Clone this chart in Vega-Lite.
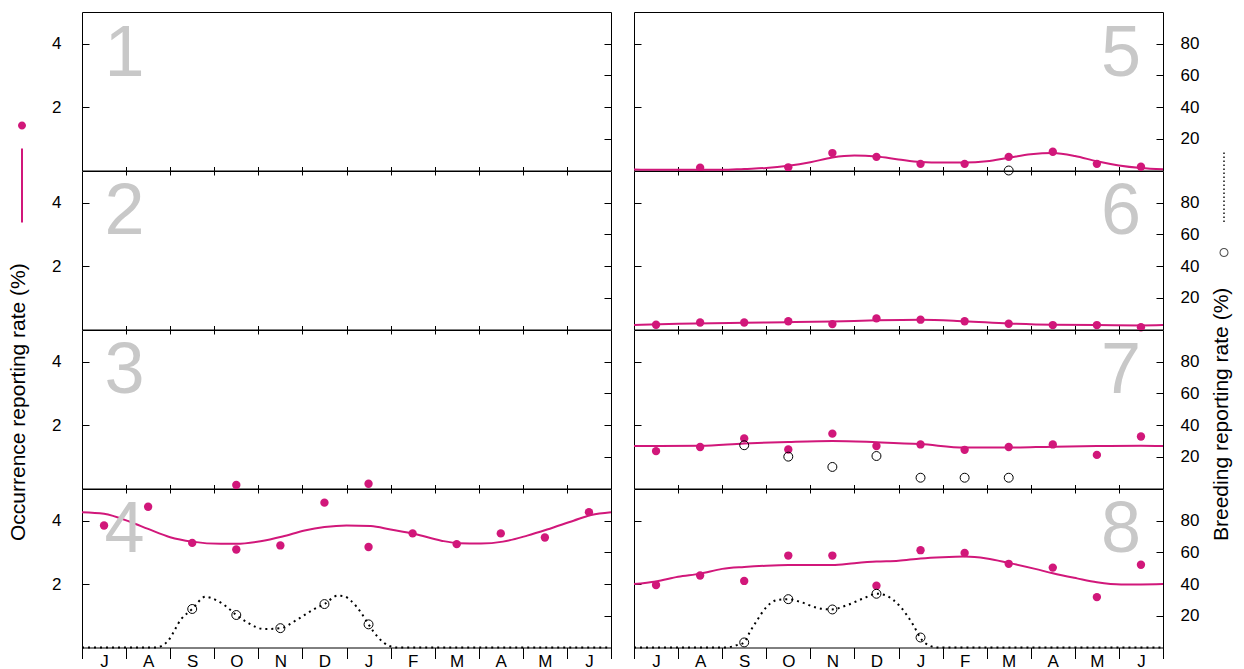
{
  "$schema": "https://vega.github.io/schema/vega-lite/v6.json",
  "padding": {"left": 6, "top": 11, "right": 5, "bottom": 0},
  "background": "white",
  "config": {
    "font": "Liberation Sans",
    "view": {"stroke": "black", "strokeWidth": 1},
    "axis": {"grid": false, "domain": false, "tickColor": "black", "tickWidth": 1, "labelColor": "black", "labelFont": "Liberation Sans", "labelFontSize": 17, "titleFont": "Liberation Sans", "titleFontSize": 21, "titleFontWeight": "normal", "titleColor": "black"},
    "title": {"font": "Liberation Sans", "fontSize": 72, "fontWeight": "normal", "color": "#c8c8c8", "baseline": "alphabetic", "frame": "group", "offset": -78.5},
    "legend": {"padding": 0}
  },
  "datasets": {
    "occ_pts": [
      {"p": 3, "m": 3.5, "v": 0.11}, {"p": 3, "m": 6.5, "v": 0.15},
      {"p": 4, "m": 0.5, "v": 3.85}, {"p": 4, "m": 1.5, "v": 4.44}, {"p": 4, "m": 2.5, "v": 3.30}, {"p": 4, "m": 3.5, "v": 3.09},
      {"p": 4, "m": 4.5, "v": 3.22}, {"p": 4, "m": 5.5, "v": 4.57}, {"p": 4, "m": 6.5, "v": 3.17}, {"p": 4, "m": 7.5, "v": 3.60},
      {"p": 4, "m": 8.5, "v": 3.26}, {"p": 4, "m": 9.5, "v": 3.60}, {"p": 4, "m": 10.5, "v": 3.47}, {"p": 4, "m": 11.5, "v": 4.27},
      {"p": 5, "m": 1.5, "v": 0.09}, {"p": 5, "m": 3.5, "v": 0.1}, {"p": 5, "m": 4.5, "v": 0.55}, {"p": 5, "m": 5.5, "v": 0.43},
      {"p": 5, "m": 6.5, "v": 0.21}, {"p": 5, "m": 7.5, "v": 0.21}, {"p": 5, "m": 8.5, "v": 0.43}, {"p": 5, "m": 9.5, "v": 0.59},
      {"p": 5, "m": 10.5, "v": 0.21}, {"p": 5, "m": 11.5, "v": 0.12},
      {"p": 6, "m": 0.5, "v": 0.15}, {"p": 6, "m": 1.5, "v": 0.22}, {"p": 6, "m": 2.5, "v": 0.22}, {"p": 6, "m": 3.5, "v": 0.26},
      {"p": 6, "m": 4.5, "v": 0.17}, {"p": 6, "m": 5.5, "v": 0.35}, {"p": 6, "m": 6.5, "v": 0.31}, {"p": 6, "m": 7.5, "v": 0.26},
      {"p": 6, "m": 8.5, "v": 0.18}, {"p": 6, "m": 9.5, "v": 0.14}, {"p": 6, "m": 10.5, "v": 0.14}, {"p": 6, "m": 11.5, "v": 0.07},
      {"p": 7, "m": 0.5, "v": 1.18}, {"p": 7, "m": 1.5, "v": 1.31}, {"p": 7, "m": 2.5, "v": 1.58}, {"p": 7, "m": 3.5, "v": 1.23},
      {"p": 7, "m": 4.5, "v": 1.73}, {"p": 7, "m": 5.5, "v": 1.34}, {"p": 7, "m": 6.5, "v": 1.39}, {"p": 7, "m": 7.5, "v": 1.22},
      {"p": 7, "m": 8.5, "v": 1.31}, {"p": 7, "m": 9.5, "v": 1.39}, {"p": 7, "m": 10.5, "v": 1.06}, {"p": 7, "m": 11.5, "v": 1.64},
      {"p": 8, "m": 0.5, "v": 1.97}, {"p": 8, "m": 1.5, "v": 2.27}, {"p": 8, "m": 2.5, "v": 2.10}, {"p": 8, "m": 3.5, "v": 2.90},
      {"p": 8, "m": 4.5, "v": 2.90}, {"p": 8, "m": 5.5, "v": 1.95}, {"p": 8, "m": 6.5, "v": 3.07}, {"p": 8, "m": 7.5, "v": 2.98},
      {"p": 8, "m": 8.5, "v": 2.64}, {"p": 8, "m": 9.5, "v": 2.52}, {"p": 8, "m": 10.5, "v": 1.59}, {"p": 8, "m": 11.5, "v": 2.61}
    ],
    "occ_line": [
      {"p": 4, "m": 0, "v": 4.27}, {"p": 4, "m": 0.5, "v": 4.22}, {"p": 4, "m": 1.1, "v": 3.96}, {"p": 4, "m": 1.5, "v": 3.74},
      {"p": 4, "m": 2.0, "v": 3.48}, {"p": 4, "m": 2.5, "v": 3.34}, {"p": 4, "m": 3.15, "v": 3.27}, {"p": 4, "m": 3.5, "v": 3.27},
      {"p": 4, "m": 4.05, "v": 3.35}, {"p": 4, "m": 4.55, "v": 3.50}, {"p": 4, "m": 5.05, "v": 3.69}, {"p": 4, "m": 5.5, "v": 3.80},
      {"p": 4, "m": 6.0, "v": 3.85}, {"p": 4, "m": 6.55, "v": 3.83}, {"p": 4, "m": 7.0, "v": 3.72}, {"p": 4, "m": 7.55, "v": 3.58},
      {"p": 4, "m": 8.15, "v": 3.37}, {"p": 4, "m": 8.55, "v": 3.29}, {"p": 4, "m": 9.05, "v": 3.28}, {"p": 4, "m": 9.55, "v": 3.34},
      {"p": 4, "m": 10.1, "v": 3.53}, {"p": 4, "m": 10.55, "v": 3.72}, {"p": 4, "m": 11.15, "v": 4.0}, {"p": 4, "m": 11.55, "v": 4.18},
      {"p": 4, "m": 12, "v": 4.27},
      {"p": 5, "m": 0, "v": 0.03}, {"p": 5, "m": 0.5, "v": 0.02}, {"p": 5, "m": 1.5, "v": 0.02}, {"p": 5, "m": 2, "v": 0.02},
      {"p": 5, "m": 2.5, "v": 0.05}, {"p": 5, "m": 3, "v": 0.08}, {"p": 5, "m": 3.5, "v": 0.15}, {"p": 5, "m": 4, "v": 0.26},
      {"p": 5, "m": 4.5, "v": 0.41}, {"p": 5, "m": 5, "v": 0.47}, {"p": 5, "m": 5.5, "v": 0.44}, {"p": 5, "m": 6, "v": 0.35},
      {"p": 5, "m": 6.5, "v": 0.27}, {"p": 5, "m": 7, "v": 0.25}, {"p": 5, "m": 7.5, "v": 0.25}, {"p": 5, "m": 8, "v": 0.29},
      {"p": 5, "m": 8.5, "v": 0.40}, {"p": 5, "m": 9, "v": 0.51}, {"p": 5, "m": 9.5, "v": 0.55}, {"p": 5, "m": 10, "v": 0.46},
      {"p": 5, "m": 10.5, "v": 0.29}, {"p": 5, "m": 11, "v": 0.16}, {"p": 5, "m": 11.5, "v": 0.08}, {"p": 5, "m": 12, "v": 0.04},
      {"p": 6, "m": 0, "v": 0.14}, {"p": 6, "m": 1, "v": 0.18}, {"p": 6, "m": 2.5, "v": 0.21}, {"p": 6, "m": 3.5, "v": 0.23},
      {"p": 6, "m": 4.5, "v": 0.25}, {"p": 6, "m": 5.5, "v": 0.29}, {"p": 6, "m": 6.5, "v": 0.31}, {"p": 6, "m": 7.5, "v": 0.26},
      {"p": 6, "m": 8.5, "v": 0.19}, {"p": 6, "m": 9.5, "v": 0.15}, {"p": 6, "m": 10.5, "v": 0.14}, {"p": 6, "m": 11.5, "v": 0.13},
      {"p": 6, "m": 12, "v": 0.14},
      {"p": 7, "m": 0, "v": 1.34}, {"p": 7, "m": 1.5, "v": 1.35}, {"p": 7, "m": 2.5, "v": 1.42}, {"p": 7, "m": 3.5, "v": 1.47},
      {"p": 7, "m": 4.5, "v": 1.50}, {"p": 7, "m": 5.5, "v": 1.46}, {"p": 7, "m": 6.5, "v": 1.40}, {"p": 7, "m": 7.5, "v": 1.29},
      {"p": 7, "m": 8.5, "v": 1.29}, {"p": 7, "m": 9.5, "v": 1.32}, {"p": 7, "m": 10.5, "v": 1.34}, {"p": 7, "m": 11.5, "v": 1.35},
      {"p": 7, "m": 12, "v": 1.34},
      {"p": 8, "m": 0, "v": 2.0}, {"p": 8, "m": 0.5, "v": 2.08}, {"p": 8, "m": 1, "v": 2.23}, {"p": 8, "m": 1.5, "v": 2.33},
      {"p": 8, "m": 2, "v": 2.48}, {"p": 8, "m": 2.5, "v": 2.54}, {"p": 8, "m": 3, "v": 2.58}, {"p": 8, "m": 3.5, "v": 2.60},
      {"p": 8, "m": 4, "v": 2.60}, {"p": 8, "m": 4.5, "v": 2.60}, {"p": 8, "m": 5, "v": 2.66}, {"p": 8, "m": 5.5, "v": 2.71},
      {"p": 8, "m": 6, "v": 2.74}, {"p": 8, "m": 6.5, "v": 2.81}, {"p": 8, "m": 7, "v": 2.85}, {"p": 8, "m": 7.5, "v": 2.87},
      {"p": 8, "m": 8, "v": 2.81}, {"p": 8, "m": 8.5, "v": 2.67}, {"p": 8, "m": 9.1, "v": 2.48}, {"p": 8, "m": 9.5, "v": 2.34},
      {"p": 8, "m": 10.05, "v": 2.18}, {"p": 8, "m": 10.5, "v": 2.06}, {"p": 8, "m": 11.05, "v": 1.99}, {"p": 8, "m": 11.5, "v": 1.99},
      {"p": 8, "m": 12, "v": 2.0}
    ],
    "br_pts": [
      {"p": 4, "m": 2.5, "v": 24.3}, {"p": 4, "m": 3.5, "v": 20.5}, {"p": 4, "m": 4.5, "v": 12.2}, {"p": 4, "m": 5.5, "v": 27.4}, {"p": 4, "m": 6.5, "v": 14.6},
      {"p": 5, "m": 8.5, "v": 0},
      {"p": 7, "m": 2.5, "v": 27.3}, {"p": 7, "m": 3.5, "v": 20.1}, {"p": 7, "m": 4.5, "v": 13.6}, {"p": 7, "m": 5.5, "v": 20.5},
      {"p": 7, "m": 6.5, "v": 6.8}, {"p": 7, "m": 7.5, "v": 6.8}, {"p": 7, "m": 8.5, "v": 6.8},
      {"p": 8, "m": 2.5, "v": 3.2}, {"p": 8, "m": 3.5, "v": 30.5}, {"p": 8, "m": 4.5, "v": 24.0}, {"p": 8, "m": 5.5, "v": 33.9}, {"p": 8, "m": 6.5, "v": 6.3}
    ],
    "br_line": [
      {"p": 4, "m": 0, "v": 0}, {"p": 4, "m": 1.68, "v": 0}, {"p": 4, "m": 1.95, "v": 4.2}, {"p": 4, "m": 2.25, "v": 17.9},
      {"p": 4, "m": 2.5, "v": 24.3}, {"p": 4, "m": 2.8, "v": 32}, {"p": 4, "m": 3.05, "v": 29.8}, {"p": 4, "m": 3.3, "v": 25.3},
      {"p": 4, "m": 3.5, "v": 20.5}, {"p": 4, "m": 3.75, "v": 15.8}, {"p": 4, "m": 4.13, "v": 11.6}, {"p": 4, "m": 4.5, "v": 12.2},
      {"p": 4, "m": 4.9, "v": 17.9}, {"p": 4, "m": 5.27, "v": 24.3}, {"p": 4, "m": 5.5, "v": 27.4}, {"p": 4, "m": 5.8, "v": 32.7},
      {"p": 4, "m": 5.95, "v": 32.3}, {"p": 4, "m": 6.1, "v": 29.5}, {"p": 4, "m": 6.33, "v": 22}, {"p": 4, "m": 6.5, "v": 14.6},
      {"p": 4, "m": 6.72, "v": 6.3}, {"p": 4, "m": 6.97, "v": 1}, {"p": 4, "m": 7.15, "v": 0}, {"p": 4, "m": 12, "v": 0},
      {"p": 8, "m": 0, "v": 0}, {"p": 8, "m": 2.1, "v": 0}, {"p": 8, "m": 2.33, "v": 1.5}, {"p": 8, "m": 2.5, "v": 3.2},
      {"p": 8, "m": 2.63, "v": 9.9}, {"p": 8, "m": 2.78, "v": 16.6}, {"p": 8, "m": 3.01, "v": 25.7}, {"p": 8, "m": 3.24, "v": 29.9},
      {"p": 8, "m": 3.49, "v": 30.5}, {"p": 8, "m": 3.77, "v": 28.8}, {"p": 8, "m": 4.14, "v": 25.1}, {"p": 8, "m": 4.48, "v": 24.0},
      {"p": 8, "m": 4.83, "v": 26.7}, {"p": 8, "m": 5.2, "v": 30.9}, {"p": 8, "m": 5.51, "v": 33.9}, {"p": 8, "m": 5.7, "v": 33},
      {"p": 8, "m": 5.88, "v": 30}, {"p": 8, "m": 6.05, "v": 25.5}, {"p": 8, "m": 6.2, "v": 20}, {"p": 8, "m": 6.34, "v": 14},
      {"p": 8, "m": 6.49, "v": 6.3}, {"p": 8, "m": 6.71, "v": 1.1}, {"p": 8, "m": 6.9, "v": 0}, {"p": 8, "m": 12, "v": 0}
    ]
  },
  "bounds": "flush",
  "columns": 2,
  "spacing": {"row": 0, "column": 23},
  "concat": [
    {
      "width": 529, "height": 158.5,
      "title": {"text": "1", "anchor": "start", "align": "left", "dx": 22.5},
      "resolve": {"scale": {"y": "independent"}, "axis": {"x": "independent", "y": "independent"}},
      "layer": [
        {
          "encoding": {
            "x": {"field": "m", "type": "quantitative", "scale": {"domain": [0, 12], "nice": false, "zero": false}, "axis": {"values": [1,2,3,4,5,6,7,8,9,10,11], "labels": false, "tickSize": -4, "title": null}},
            "y": {"field": "v", "type": "quantitative", "scale": {"domain": [0, 5], "nice": false}, "axis": {"values": [2, 4], "tickSize": -7, "labelPadding": 28, "title": "Occurrence reporting rate (%)", "titleAngle": 270, "titleX": -58, "titleY": 528.5, "titleAlign": "left", "titleBaseline": "alphabetic"}}
          },
          "layer": [
            {"data": {"name": "occ_line"}, "transform": [{"filter": "datum.p == 1"}], "mark": {"type": "line", "color": "#d1177a", "strokeWidth": 2, "interpolate": "monotone"}},
            {"data": {"name": "occ_pts"}, "transform": [{"filter": "datum.p == 1"}], "mark": {"type": "circle", "color": "#d1177a", "size": 70, "opacity": 1}},
            {"data": {"name": "occ_pts"}, "transform": [{"filter": "datum.p == 1"}], "mark": {"type": "point", "filled": true, "size": 4, "color": "#d1177a", "opacity": 1},
             "encoding": {"shape": {"datum": "o", "scale": {"domain": ["o"], "range": ["M-4,0A4,4 0 1,1 4,0A4,4 0 1,1 -4,0ZM-1,23h2v74h-2Z"]},
               "legend": {"orient": "none", "legendX": -62, "legendY": 111.5, "title": null, "labelExpr": "''", "labelFontSize": 1, "symbolSize": 4, "padding": 0,
                 "encode": {"symbols": {"fill": {"value": "#d1177a"}, "stroke": {"value": "#d1177a"}, "strokeWidth": {"value": 0}, "opacity": {"value": 1}}}}}}},
            {"data": {"name": "br_pts"}, "transform": [{"filter": "datum.p == 1"}], "mark": {"type": "point", "filled": true, "size": 4},
             "encoding": {"fill": {"datum": "b", "scale": {"domain": ["b"], "range": ["black"]},
               "legend": {"orient": "none", "legendX": 1140, "legendY": 238.5, "title": null, "labelExpr": "''", "labelFontSize": 1, "symbolSize": 4, "padding": 0,
                 "symbolType": "M-4.5,0A4.5,4.5 0 1,1 4.5,0A4.5,4.5 0 1,1 -4.5,0ZM-3.5,0A3.5,3.5 0 1,0 3.5,0A3.5,3.5 0 1,0 -3.5,0ZM-1,-100h2v1.5h-2ZM-1,-96h2v1.5h-2ZM-1,-92h2v1.5h-2ZM-1,-88h2v1.5h-2ZM-1,-84h2v1.5h-2ZM-1,-80h2v1.5h-2ZM-1,-76h2v1.5h-2ZM-1,-72h2v1.5h-2ZM-1,-68h2v1.5h-2ZM-1,-64h2v1.5h-2ZM-1,-60h2v1.5h-2ZM-1,-56h2v1.5h-2ZM-1,-52h2v1.5h-2ZM-1,-48h2v1.5h-2ZM-1,-44h2v1.5h-2ZM-1,-40h2v1.5h-2ZM-1,-36h2v1.5h-2ZM-1,-32h2v1.5h-2Z",
                 "encode": {"symbols": {"fill": {"value": "black"}, "strokeWidth": {"value": 0}, "opacity": {"value": 1}}}}}}}
          ]
        },
        {
          "encoding": {
            "x": {"field": "m", "type": "quantitative", "axis": null},
            "y": {"field": "v", "type": "quantitative", "scale": {"domain": [0, 100], "nice": false}, "axis": {"orient": "right", "values": [20, 40, 60, 80], "tickSize": -7, "labels": false, "title": null}}
          },
          "layer": [
            {"data": {"name": "br_line"}, "transform": [{"filter": "datum.p == 1"}], "mark": {"type": "line", "color": "black", "strokeWidth": 2, "strokeDash": [2, 4], "interpolate": "monotone"}},
            {"data": {"name": "br_pts"}, "transform": [{"filter": "datum.p == 1"}], "mark": {"type": "point", "shape": "circle", "color": "black", "filled": false, "size": 80, "strokeWidth": 1, "opacity": 1}}
          ]
        }
      ]
    },
    {
      "width": 529, "height": 158.5,
      "title": {"text": "5", "anchor": "end", "align": "right", "dx": -22},
      "resolve": {"scale": {"y": "independent"}, "axis": {"x": "independent", "y": "independent"}},
      "layer": [
        {
          "encoding": {
            "x": {"field": "m", "type": "quantitative", "scale": {"domain": [0, 12], "nice": false, "zero": false}, "axis": {"values": [1,2,3,4,5,6,7,8,9,10,11], "labels": false, "tickSize": -4, "title": null}},
            "y": {"field": "v", "type": "quantitative", "scale": {"domain": [0, 5], "nice": false}, "axis": {"values": [2, 4], "tickSize": -7, "labels": false, "title": null}}
          },
          "layer": [
            {"data": {"name": "occ_line"}, "transform": [{"filter": "datum.p == 5"}], "mark": {"type": "line", "color": "#d1177a", "strokeWidth": 2, "interpolate": "monotone"}},
            {"data": {"name": "occ_pts"}, "transform": [{"filter": "datum.p == 5"}], "mark": {"type": "circle", "color": "#d1177a", "size": 70, "opacity": 1}}
          ]
        },
        {
          "encoding": {
            "x": {"field": "m", "type": "quantitative", "axis": null},
            "y": {"field": "v", "type": "quantitative", "scale": {"domain": [0, 100], "nice": false}, "axis": {"orient": "right", "values": [20, 40, 60, 80], "tickSize": -7, "labelPadding": 24, "title": "Breeding reporting rate (%)", "titleAngle": 270, "titleX": 64, "titleY": 528.5, "titleAlign": "left", "titleBaseline": "alphabetic"}}
          },
          "layer": [
            {"data": {"name": "br_line"}, "transform": [{"filter": "datum.p == 5"}], "mark": {"type": "line", "color": "black", "strokeWidth": 2, "strokeDash": [2, 4], "interpolate": "monotone"}},
            {"data": {"name": "br_pts"}, "transform": [{"filter": "datum.p == 5"}], "mark": {"type": "point", "shape": "circle", "color": "black", "filled": false, "size": 80, "strokeWidth": 1, "opacity": 1}}
          ]
        }
      ]
    },
    {
      "width": 529, "height": 158.5,
      "title": {"text": "2", "anchor": "start", "align": "left", "dx": 22.5},
      "resolve": {"scale": {"y": "independent"}, "axis": {"x": "independent", "y": "independent"}},
      "layer": [
        {
          "encoding": {
            "x": {"field": "m", "type": "quantitative", "scale": {"domain": [0, 12], "nice": false, "zero": false}, "axis": {"values": [1,2,3,4,5,6,7,8,9,10,11], "labels": false, "tickSize": -4, "title": null}},
            "y": {"field": "v", "type": "quantitative", "scale": {"domain": [0, 5], "nice": false}, "axis": {"values": [2, 4], "tickSize": -7, "labelPadding": 28, "title": null}}
          },
          "layer": [
            {"data": {"name": "occ_line"}, "transform": [{"filter": "datum.p == 2"}], "mark": {"type": "line", "color": "#d1177a", "strokeWidth": 2, "interpolate": "monotone"}},
            {"data": {"name": "occ_pts"}, "transform": [{"filter": "datum.p == 2"}], "mark": {"type": "circle", "color": "#d1177a", "size": 70, "opacity": 1}}
          ]
        },
        {
          "encoding": {
            "x": {"field": "m", "type": "quantitative", "axis": {"orient": "top", "values": [1,2,3,4,5,6,7,8,9,10,11], "labels": false, "tickSize": -4, "title": null}},
            "y": {"field": "v", "type": "quantitative", "scale": {"domain": [0, 100], "nice": false}, "axis": {"orient": "right", "values": [20, 40, 60, 80], "tickSize": -7, "labels": false, "title": null}}
          },
          "layer": [
            {"data": {"name": "br_line"}, "transform": [{"filter": "datum.p == 2"}], "mark": {"type": "line", "color": "black", "strokeWidth": 2, "strokeDash": [2, 4], "interpolate": "monotone"}},
            {"data": {"name": "br_pts"}, "transform": [{"filter": "datum.p == 2"}], "mark": {"type": "point", "shape": "circle", "color": "black", "filled": false, "size": 80, "strokeWidth": 1, "opacity": 1}}
          ]
        }
      ]
    },
    {
      "width": 529, "height": 158.5,
      "title": {"text": "6", "anchor": "end", "align": "right", "dx": -22},
      "resolve": {"scale": {"y": "independent"}, "axis": {"x": "independent", "y": "independent"}},
      "layer": [
        {
          "encoding": {
            "x": {"field": "m", "type": "quantitative", "scale": {"domain": [0, 12], "nice": false, "zero": false}, "axis": {"values": [1,2,3,4,5,6,7,8,9,10,11], "labels": false, "tickSize": -4, "title": null}},
            "y": {"field": "v", "type": "quantitative", "scale": {"domain": [0, 5], "nice": false}, "axis": {"values": [2, 4], "tickSize": -7, "labels": false, "title": null}}
          },
          "layer": [
            {"data": {"name": "occ_line"}, "transform": [{"filter": "datum.p == 6"}], "mark": {"type": "line", "color": "#d1177a", "strokeWidth": 2, "interpolate": "monotone"}},
            {"data": {"name": "occ_pts"}, "transform": [{"filter": "datum.p == 6"}], "mark": {"type": "circle", "color": "#d1177a", "size": 70, "opacity": 1}}
          ]
        },
        {
          "encoding": {
            "x": {"field": "m", "type": "quantitative", "axis": {"orient": "top", "values": [1,2,3,4,5,6,7,8,9,10,11], "labels": false, "tickSize": -4, "title": null}},
            "y": {"field": "v", "type": "quantitative", "scale": {"domain": [0, 100], "nice": false}, "axis": {"orient": "right", "values": [20, 40, 60, 80], "tickSize": -7, "labelPadding": 24, "title": null}}
          },
          "layer": [
            {"data": {"name": "br_line"}, "transform": [{"filter": "datum.p == 6"}], "mark": {"type": "line", "color": "black", "strokeWidth": 2, "strokeDash": [2, 4], "interpolate": "monotone"}},
            {"data": {"name": "br_pts"}, "transform": [{"filter": "datum.p == 6"}], "mark": {"type": "point", "shape": "circle", "color": "black", "filled": false, "size": 80, "strokeWidth": 1, "opacity": 1}}
          ]
        }
      ]
    },
    {
      "width": 529, "height": 158.5,
      "title": {"text": "3", "anchor": "start", "align": "left", "dx": 22.5},
      "resolve": {"scale": {"y": "independent"}, "axis": {"x": "independent", "y": "independent"}},
      "layer": [
        {
          "encoding": {
            "x": {"field": "m", "type": "quantitative", "scale": {"domain": [0, 12], "nice": false, "zero": false}, "axis": {"values": [1,2,3,4,5,6,7,8,9,10,11], "labels": false, "tickSize": -4, "title": null}},
            "y": {"field": "v", "type": "quantitative", "scale": {"domain": [0, 5], "nice": false}, "axis": {"values": [2, 4], "tickSize": -7, "labelPadding": 28, "title": null}}
          },
          "layer": [
            {"data": {"name": "occ_line"}, "transform": [{"filter": "datum.p == 3"}], "mark": {"type": "line", "color": "#d1177a", "strokeWidth": 2, "interpolate": "monotone"}},
            {"data": {"name": "occ_pts"}, "transform": [{"filter": "datum.p == 3"}], "mark": {"type": "circle", "color": "#d1177a", "size": 70, "opacity": 1}}
          ]
        },
        {
          "encoding": {
            "x": {"field": "m", "type": "quantitative", "axis": {"orient": "top", "values": [1,2,3,4,5,6,7,8,9,10,11], "labels": false, "tickSize": -4, "title": null}},
            "y": {"field": "v", "type": "quantitative", "scale": {"domain": [0, 100], "nice": false}, "axis": {"orient": "right", "values": [20, 40, 60, 80], "tickSize": -7, "labels": false, "title": null}}
          },
          "layer": [
            {"data": {"name": "br_line"}, "transform": [{"filter": "datum.p == 3"}], "mark": {"type": "line", "color": "black", "strokeWidth": 2, "strokeDash": [2, 4], "interpolate": "monotone"}},
            {"data": {"name": "br_pts"}, "transform": [{"filter": "datum.p == 3"}], "mark": {"type": "point", "shape": "circle", "color": "black", "filled": false, "size": 80, "strokeWidth": 1, "opacity": 1}}
          ]
        }
      ]
    },
    {
      "width": 529, "height": 158.5,
      "title": {"text": "7", "anchor": "end", "align": "right", "dx": -22},
      "resolve": {"scale": {"y": "independent"}, "axis": {"x": "independent", "y": "independent"}},
      "layer": [
        {
          "encoding": {
            "x": {"field": "m", "type": "quantitative", "scale": {"domain": [0, 12], "nice": false, "zero": false}, "axis": {"values": [1,2,3,4,5,6,7,8,9,10,11], "labels": false, "tickSize": -4, "title": null}},
            "y": {"field": "v", "type": "quantitative", "scale": {"domain": [0, 5], "nice": false}, "axis": {"values": [2, 4], "tickSize": -7, "labels": false, "title": null}}
          },
          "layer": [
            {"data": {"name": "occ_line"}, "transform": [{"filter": "datum.p == 7"}], "mark": {"type": "line", "color": "#d1177a", "strokeWidth": 2, "interpolate": "monotone"}},
            {"data": {"name": "occ_pts"}, "transform": [{"filter": "datum.p == 7"}], "mark": {"type": "circle", "color": "#d1177a", "size": 70, "opacity": 1}}
          ]
        },
        {
          "encoding": {
            "x": {"field": "m", "type": "quantitative", "axis": {"orient": "top", "values": [1,2,3,4,5,6,7,8,9,10,11], "labels": false, "tickSize": -4, "title": null}},
            "y": {"field": "v", "type": "quantitative", "scale": {"domain": [0, 100], "nice": false}, "axis": {"orient": "right", "values": [20, 40, 60, 80], "tickSize": -7, "labelPadding": 24, "title": null}}
          },
          "layer": [
            {"data": {"name": "br_line"}, "transform": [{"filter": "datum.p == 7"}], "mark": {"type": "line", "color": "black", "strokeWidth": 2, "strokeDash": [2, 4], "interpolate": "monotone"}},
            {"data": {"name": "br_pts"}, "transform": [{"filter": "datum.p == 7"}], "mark": {"type": "point", "shape": "circle", "color": "black", "filled": false, "size": 80, "strokeWidth": 1, "opacity": 1}}
          ]
        }
      ]
    },
    {
      "width": 529, "height": 158.5,
      "title": {"text": "4", "anchor": "start", "align": "left", "dx": 22.5},
      "resolve": {"scale": {"y": "independent"}, "axis": {"x": "independent", "y": "independent"}},
      "layer": [
        {
          "encoding": {
            "x": {"field": "m", "type": "quantitative", "scale": {"domain": [0, 12], "nice": false, "zero": false}, "axis": {"values": [0,1,2,3,4,5,6,7,8,9,10,11,12], "labelExpr": "['J','A','S','O','N','D','J','F','M','A','M','J',''][datum.value]", "labelOffset": 22, "tickSize": 11, "labelPadding": -5, "labelFlush": false, "labelOverlap": false, "labelBound": false, "title": null}},
            "y": {"field": "v", "type": "quantitative", "scale": {"domain": [0, 5], "nice": false}, "axis": {"values": [2, 4], "tickSize": -7, "labelPadding": 28, "title": null}}
          },
          "layer": [
            {"data": {"name": "occ_line"}, "transform": [{"filter": "datum.p == 4"}], "mark": {"type": "line", "color": "#d1177a", "strokeWidth": 2, "interpolate": "monotone"}},
            {"data": {"name": "occ_pts"}, "transform": [{"filter": "datum.p == 4"}], "mark": {"type": "circle", "color": "#d1177a", "size": 70, "opacity": 1}}
          ]
        },
        {
          "encoding": {
            "x": {"field": "m", "type": "quantitative", "axis": {"orient": "top", "values": [1,2,3,4,5,6,7,8,9,10,11], "labels": false, "tickSize": -4, "title": null}},
            "y": {"field": "v", "type": "quantitative", "scale": {"domain": [0, 100], "nice": false}, "axis": {"orient": "right", "values": [20, 40, 60, 80], "tickSize": -7, "labels": false, "title": null}}
          },
          "layer": [
            {"data": {"name": "br_line"}, "transform": [{"filter": "datum.p == 4"}], "mark": {"type": "line", "color": "black", "strokeWidth": 2, "strokeDash": [2, 4], "interpolate": "monotone"}},
            {"data": {"name": "br_pts"}, "transform": [{"filter": "datum.p == 4"}], "mark": {"type": "point", "shape": "circle", "color": "black", "filled": false, "size": 80, "strokeWidth": 1, "opacity": 1}}
          ]
        }
      ]
    },
    {
      "width": 529, "height": 158.5,
      "title": {"text": "8", "anchor": "end", "align": "right", "dx": -22},
      "resolve": {"scale": {"y": "independent"}, "axis": {"x": "independent", "y": "independent"}},
      "layer": [
        {
          "encoding": {
            "x": {"field": "m", "type": "quantitative", "scale": {"domain": [0, 12], "nice": false, "zero": false}, "axis": {"values": [0,1,2,3,4,5,6,7,8,9,10,11,12], "labelExpr": "['J','A','S','O','N','D','J','F','M','A','M','J',''][datum.value]", "labelOffset": 22, "tickSize": 11, "labelPadding": -5, "labelFlush": false, "labelOverlap": false, "labelBound": false, "title": null}},
            "y": {"field": "v", "type": "quantitative", "scale": {"domain": [0, 5], "nice": false}, "axis": {"values": [2, 4], "tickSize": -7, "labels": false, "title": null}}
          },
          "layer": [
            {"data": {"name": "occ_line"}, "transform": [{"filter": "datum.p == 8"}], "mark": {"type": "line", "color": "#d1177a", "strokeWidth": 2, "interpolate": "monotone"}},
            {"data": {"name": "occ_pts"}, "transform": [{"filter": "datum.p == 8"}], "mark": {"type": "circle", "color": "#d1177a", "size": 70, "opacity": 1}}
          ]
        },
        {
          "encoding": {
            "x": {"field": "m", "type": "quantitative", "axis": {"orient": "top", "values": [1,2,3,4,5,6,7,8,9,10,11], "labels": false, "tickSize": -4, "title": null}},
            "y": {"field": "v", "type": "quantitative", "scale": {"domain": [0, 100], "nice": false}, "axis": {"orient": "right", "values": [20, 40, 60, 80], "tickSize": -7, "labelPadding": 24, "title": null}}
          },
          "layer": [
            {"data": {"name": "br_line"}, "transform": [{"filter": "datum.p == 8"}], "mark": {"type": "line", "color": "black", "strokeWidth": 2, "strokeDash": [2, 4], "interpolate": "monotone"}},
            {"data": {"name": "br_pts"}, "transform": [{"filter": "datum.p == 8"}], "mark": {"type": "point", "shape": "circle", "color": "black", "filled": false, "size": 80, "strokeWidth": 1, "opacity": 1}}
          ]
        }
      ]
    }
  ]
}
